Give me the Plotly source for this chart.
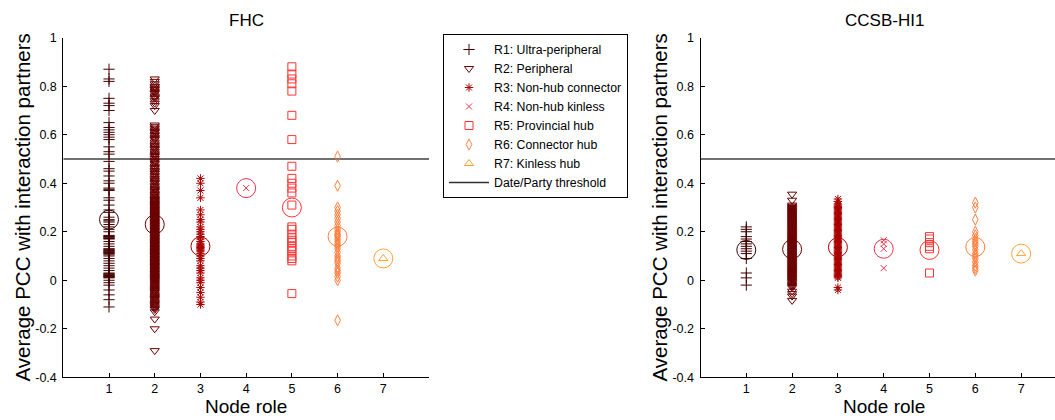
import plotly.graph_objects as go

# ---------------- data ----------------
roles = [1, 2, 3, 4, 5, 6, 7]
role_names = ["R1: Ultra-peripheral", "R2: Peripheral", "R3: Non-hub connector",
              "R4: Non-hub kinless", "R5: Provincial hub", "R6: Connector hub",
              "R7: Kinless hub"]
threshold_name = "Date/Party threshold"
threshold_value = 0.5

fhc_r1 = [0.87, 0.83, 0.82, 0.75, 0.73, 0.72, 0.70, 0.65, 0.63, 0.62, 0.61, 0.60, 0.59,
          0.58, 0.55, 0.53, 0.52, 0.49, 0.46, 0.45, 0.43, 0.41, 0.40, 0.38, 0.375, 0.37,
          0.34, 0.33, 0.31, 0.29, 0.28, 0.26, 0.25, 0.245, 0.24, 0.23, 0.22, 0.21, 0.20,
          0.185, 0.182, 0.18, 0.178, 0.175, 0.172, 0.17, 0.16, 0.15, 0.14, 0.13, 0.128,
          0.125, 0.122, 0.12, 0.117, 0.115, 0.112, 0.11, 0.105, 0.10, 0.09, 0.08, 0.07,
          0.06, 0.05, 0.04, 0.03, 0.027, 0.025, 0.022, 0.02, 0.017, 0.015, 0.012, 0.01,
          0.0, -0.01, -0.02, -0.04, -0.06, -0.08, -0.11]
fhc_r2 = [0.83, 0.82, 0.81, 0.80, 0.797, 0.79, 0.786, 0.78, 0.775, 0.77, 0.76, 0.755,
          0.75, 0.74, 0.73, 0.72, 0.70,
          0.64, 0.633, 0.627, 0.62, 0.614, 0.61, 0.603, 0.597, 0.59, 0.584, 0.58, 0.57,
          0.562, 0.555, 0.55, 0.543, 0.54, 0.532, 0.525, 0.52, 0.514, 0.51, 0.502, 0.495,
          0.49, 0.484, 0.48, 0.471, 0.465, 0.46, 0.452, 0.45, 0.443, 0.44, 0.433, 0.427,
          0.42, 0.414, 0.41, 0.404, 0.40, 0.392, 0.386, 0.38, 0.375, 0.372, 0.366, 0.36,
          0.355, 0.352, 0.346, 0.34, 0.336, 0.333, 0.329, 0.326, 0.322, 0.318, 0.315,
          0.312, 0.308, 0.305, 0.301, 0.298, 0.294, 0.291, 0.287, 0.284, 0.281, 0.277,
          0.274, 0.271, 0.267, 0.264, 0.261, 0.257, 0.254, 0.251, 0.247, 0.244, 0.241,
          0.238, 0.234, 0.231, 0.228, 0.225, 0.221, 0.218, 0.215, 0.212, 0.208, 0.205,
          0.202, 0.199, 0.195, 0.192, 0.189, 0.186, 0.182, 0.179, 0.176, 0.173, 0.169,
          0.166, 0.163, 0.16, 0.156, 0.153, 0.15, 0.147, 0.144, 0.141, 0.137, 0.134,
          0.131, 0.128, 0.124, 0.121, 0.118, 0.115, 0.111, 0.108, 0.105, 0.102, 0.098,
          0.096, 0.092, 0.089, 0.086, 0.083, 0.079, 0.076, 0.073, 0.07, 0.066, 0.063,
          0.06, 0.057, 0.054, 0.051, 0.047, 0.044, 0.041, 0.038, 0.034, 0.031, 0.028,
          0.025, 0.021, 0.018, 0.015, 0.012, 0.009, 0.006, 0.003, 0.0, -0.004, -0.008,
          -0.012, -0.016, -0.02, -0.024, -0.029, -0.033, -0.038, -0.042, -0.047, -0.05,
          -0.056, -0.061, -0.066, -0.07, -0.075, -0.079, -0.085, -0.09, -0.095, -0.1,
          -0.105, -0.11, -0.115, -0.12, -0.13, -0.16, -0.20, -0.29]
fhc_r3 = [0.42, 0.40, 0.37, 0.34, 0.29, 0.27, 0.25, 0.24, 0.22, 0.21, 0.20, 0.19, 0.18,
          0.17, 0.16, 0.15, 0.145, 0.14, 0.135, 0.13, 0.125, 0.12, 0.11, 0.10, 0.09, 0.08,
          0.06, 0.05, 0.04, 0.03, 0.01, 0.0, -0.01, -0.03, -0.05, -0.07, -0.09, -0.10]
fhc_r4 = [0.38]
fhc_r5 = [0.88, 0.85, 0.83, 0.81, 0.78, 0.68, 0.58, 0.47, 0.42, 0.40, 0.38, 0.36, 0.31,
          0.22, 0.21, 0.19, 0.175, 0.165, 0.155, 0.14, 0.13, 0.12, 0.10, 0.09, 0.08, -0.055]
fhc_r6 = [0.51, 0.39, 0.30, 0.285, 0.27, 0.255, 0.24, 0.225, 0.21, 0.20, 0.19, 0.185,
          0.18, 0.17, 0.16, 0.15, 0.14, 0.13, 0.115, 0.10, 0.09, 0.08, 0.07, 0.05, 0.04,
          0.03, 0.015, 0.0, -0.165]
fhc_r7 = [0.09]
fhc_means = [0.25, 0.23, 0.14, 0.38, 0.30, 0.18, 0.09]

ccsb_r1 = [0.22, 0.21, 0.20, 0.18, 0.17, 0.16, 0.15, 0.14, 0.13, 0.12, 0.11, 0.09,
           0.03, 0.01, -0.02]
ccsb_r2 = [0.355, 0.33, 0.31, 0.305, 0.30, 0.296, 0.292, 0.288, 0.284, 0.28, 0.276,
           0.272, 0.268, 0.264, 0.26, 0.256, 0.252, 0.248, 0.244, 0.24, 0.236, 0.232,
           0.228, 0.224, 0.22, 0.216, 0.212, 0.208, 0.204, 0.2, 0.196, 0.192, 0.188,
           0.184, 0.18, 0.176, 0.172, 0.168, 0.164, 0.16, 0.156, 0.152, 0.148, 0.144,
           0.14, 0.136, 0.132, 0.128, 0.124, 0.12, 0.116, 0.112, 0.108, 0.104, 0.1,
           0.096, 0.092, 0.088, 0.084, 0.08, 0.076, 0.072, 0.068, 0.064, 0.06, 0.056,
           0.052, 0.048, 0.044, 0.04, 0.036, 0.032, 0.028, 0.024, 0.02, 0.016, 0.012,
           0.008, 0.004, 0.0, -0.005, -0.01, -0.015, -0.02, -0.025, -0.03, -0.045,
           -0.055, -0.065, -0.083]
ccsb_r3 = [0.335, 0.325, 0.315, 0.31, 0.305, 0.30, 0.295, 0.29, 0.285, 0.28, 0.275,
           0.27, 0.265, 0.26, 0.255, 0.25, 0.245, 0.24, 0.235, 0.23, 0.225, 0.22, 0.215,
           0.21, 0.205, 0.2, 0.195, 0.19, 0.185, 0.18, 0.175, 0.17, 0.165, 0.16, 0.155,
           0.15, 0.145, 0.14, 0.135, 0.13, 0.125, 0.12, 0.115, 0.11, 0.105, 0.1, 0.095,
           0.09, 0.085, 0.08, 0.075, 0.07, 0.065, 0.06, 0.055, 0.05, 0.045, 0.04, 0.035,
           0.03, 0.025, 0.02, 0.015, 0.01, -0.03, -0.04]
ccsb_r4 = [0.165, 0.15, 0.13, 0.05]
ccsb_r5 = [0.18, 0.17, 0.155, 0.14, 0.13, 0.03]
ccsb_r6 = [0.32, 0.30, 0.25, 0.20, 0.185, 0.17, 0.16, 0.15, 0.14, 0.125, 0.11,
           0.10, 0.09, 0.075, 0.06, 0.05, 0.04]
ccsb_r7 = [0.11]
ccsb_means = [0.125, 0.128, 0.136, 0.13, 0.125, 0.137, 0.11]

y_ticks = [-0.4, -0.2, 0, 0.2, 0.4, 0.6, 0.8, 1]
y_tick_text = ["-0.4", "-0.2", "0", "0.2", "0.4", "0.6", "0.8", "1"]
x_ticks = [1, 2, 3, 4, 5, 6, 7]
titles = ["FHC", "CCSB-HI1"]
x_title = "Node role"
y_title = "Average PCC with interaction partners"

# ---------------- styles ----------------
colors = ["#400000", "#6b0000", "#aa0000", "#e6334d", "#ff3333", "#ff8040", "#ffa033"]
symbols = ["cross-thin", "triangle-down-open", "asterisk-open", "x-thin-open",
           "square-open", "diamond-tall-open", "triangle-up-open"]
sizes = [8, 8, 7, 6, 8, 8, 8]
FONT = "Arial, Liberation Sans, sans-serif"

fig = go.Figure()

x_ranges = [[0, 8], [0, 7.74]]
datasets = [
    ([fhc_r1, fhc_r2, fhc_r3, fhc_r4, fhc_r5, fhc_r6, fhc_r7], fhc_means, "x", "y"),
    ([ccsb_r1, ccsb_r2, ccsb_r3, ccsb_r4, ccsb_r5, ccsb_r6, ccsb_r7], ccsb_means, "x2", "y2"),
]

for di, (series, means, xa, ya) in enumerate(datasets):
    fig.add_trace(go.Scatter(
        x=x_ranges[di], y=[threshold_value, threshold_value], mode="lines",
        line=dict(color="#404040", width=1.3), xaxis=xa, yaxis=ya,
        name=threshold_name, showlegend=False, hoverinfo="skip"))
    for i, vals in enumerate(series):
        fig.add_trace(go.Scatter(
            x=[roles[i]] * len(vals), y=vals, mode="markers",
            marker=dict(symbol=symbols[i], size=sizes[i], color=colors[i],
                        line=dict(color=colors[i], width=1)),
            xaxis=xa, yaxis=ya, name=role_names[i], showlegend=(di == 0)))
    for i, m in enumerate(means):
        fig.add_trace(go.Scatter(
            x=[roles[i]], y=[m], mode="markers",
            marker=dict(symbol="circle-open", size=19, color=colors[i],
                        line=dict(color=colors[i], width=1)),
            xaxis=xa, yaxis=ya, showlegend=False))

# legend entry for threshold line
fig.add_trace(go.Scatter(
    x=[None], y=[None], mode="lines", line=dict(color="#303030", width=1.3),
    name=threshold_name, showlegend=True, xaxis="x", yaxis="y"))

W, H = 1055, 420
ydom = [(H - 377.3) / H, (H - 37.7) / H]
axis_common = dict(showline=True, linecolor="black", linewidth=1, ticks="inside",
                   ticklen=4, tickcolor="black", showgrid=False, zeroline=False,
                   automargin=False,
                   tickfont=dict(family=FONT, size=12.5, color="black"))

fig.update_layout(
    template="none",
    width=W, height=H, margin=dict(l=0, r=0, t=0, b=0, pad=0, autoexpand=False),
    paper_bgcolor="white", plot_bgcolor="white",
    showlegend=True,
    xaxis=dict(domain=[63.3 / W, 429 / W], range=x_ranges[0],
               tickvals=x_ticks, anchor="y", **axis_common),
    yaxis=dict(domain=ydom, range=[-0.4, 1], tickvals=y_ticks, ticktext=y_tick_text,
               anchor="x", ticklabelstandoff=3, **axis_common),
    xaxis2=dict(domain=[700.5 / W, 1.0], range=x_ranges[1], tickvals=x_ticks,
                anchor="y2", **axis_common),
    yaxis2=dict(domain=ydom, range=[-0.4, 1], tickvals=y_ticks, ticktext=y_tick_text,
                anchor="x2", ticklabelstandoff=3, **axis_common),
    legend=dict(x=443 / W, y=(H - 34) / H, xanchor="left", yanchor="top",
                bordercolor="black", borderwidth=1, bgcolor="white",
                font=dict(family=FONT, size=12.3, color="black"),
                itemwidth=40, traceorder="normal"),
    font=dict(family=FONT, color="black"),
)

ann = []
for cx, t in [(246, titles[0]), (884, titles[1])]:
    ann.append(dict(x=cx / W, y=(H - 20) / H, xref="paper", yref="paper", text=t,
                    showarrow=False, font=dict(family=FONT, size=17, color="black"),
                    xanchor="center", yanchor="middle"))
    ann.append(dict(x=cx / W, y=(H - 406) / H, xref="paper", yref="paper", text=x_title,
                    showarrow=False, font=dict(family=FONT, size=19, color="black"),
                    xanchor="center", yanchor="middle"))
for cx in [22, 659]:
    ann.append(dict(x=cx / W, y=(H - 207.5) / H, xref="paper", yref="paper", text=y_title,
                    textangle=-90, showarrow=False,
                    font=dict(family=FONT, size=20.5, color="black"),
                    xanchor="center", yanchor="middle"))
fig.update_layout(annotations=ann)

fig.write_html("out.html", config={"displayModeBar": False},
               post_script="document.body.style.margin='0px';")
